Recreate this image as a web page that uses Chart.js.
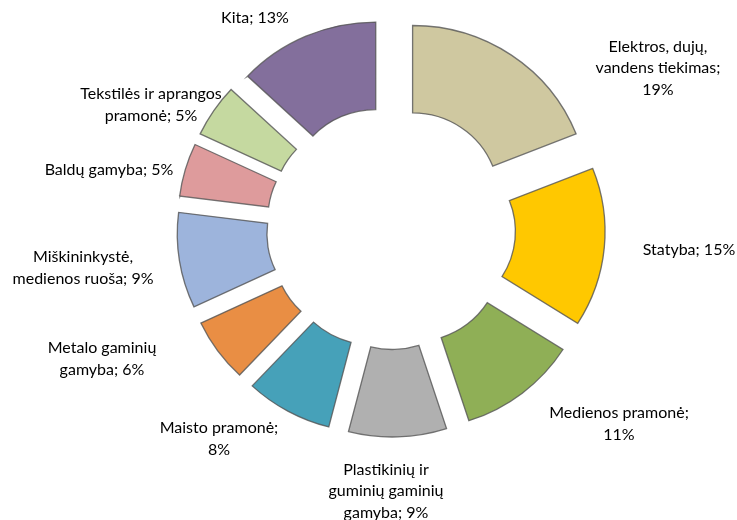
<!DOCTYPE html>
<html>
<head>
<meta charset="utf-8">
<script src="https://cdn.jsdelivr.net/npm/chart.js@4"></script>
<style>
  html, body { margin: 0; padding: 0; background: #fff; }
  #wrap { width: 737px; height: 520px; }
</style>
</head>
<body>
<div id="wrap"><canvas id="c" width="737" height="520"></canvas></div>
<script>
// ---- data ----
const categories = [
  ["Elektros, dujų,", "vandens tiekimas"],
  ["Statyba"],
  ["Medienos pramonė"],
  ["Plastikinių ir", "guminių gaminių", "gamyba"],
  ["Maisto pramonė"],
  ["Metalo gaminių", "gamyba"],
  ["Miškininkystė,", "medienos ruoša"],
  ["Baldų gamyba"],
  ["Tekstilės ir aprangos", "pramonė"],
  ["Kita"]
];
const values = [19, 15, 11, 9, 8, 6, 9, 5, 5, 13];

// ---- styles / layout ----
const colors = ["#CFC8A0", "#FFC800", "#8FAF56", "#B0B0B0", "#46A1B9",
                "#E98E44", "#9DB4DC", "#DE9B9C", "#C5D9A0", "#836F9C"];
const pctOnNewLine = [true, false, true, false, true, false, false, false, false, false];
// label block centres relative to the doughnut centre (px)
const labelOffsets = [[267, -160], [298, 22], [228, 196], [-5, 263], [-172, 211],
                      [-289, 131], [-308, 40], [-282, -58], [-240, -123], [-136, -210]];
const explode = 37.5;
const stretchX = 1.025;
const lineH = 21.5;

const explodePlugin = {
  id: 'explode',
  afterDatasetUpdate(chart, args) {
    const meta = chart.getDatasetMeta(args.index);
    meta.data.forEach(arc => {
      const mid = (arc.startAngle + arc.endAngle) / 2;
      arc.x += explode * Math.cos(mid);
      arc.y += explode * Math.sin(mid);
    });
  },
  beforeDatasetsDraw(chart) {
    const a = chart.chartArea;
    const cx = (a.left + a.right) / 2, cy = (a.top + a.bottom) / 2;
    const ctx = chart.ctx;
    ctx.save();
    ctx.translate(cx, cy);
    ctx.scale(stretchX, 1);
    ctx.translate(-cx, -cy);
  },
  afterDatasetsDraw(chart) {
    chart.ctx.restore();
  }
};

const labelPlugin = {
  id: 'sliceLabels',
  afterDraw(chart) {
    const ctx = chart.ctx;
    const area = chart.chartArea;
    const cx = (area.left + area.right) / 2;
    const cy = (area.top + area.bottom) / 2;
    ctx.save();
    ctx.font = '16px Lato, "Open Sans", sans-serif';
    ctx.fillStyle = '#000';
    ctx.textAlign = 'center';
    ctx.textBaseline = 'middle';
    const ds = chart.data.datasets[0];
    chart.data.labels.forEach((lab, i) => {
      const lines = lab.slice();
      const pct = ds.data[i] + '%';
      if (pctOnNewLine[i]) {
        lines[lines.length - 1] += ';';
        lines.push(pct);
      } else {
        lines[lines.length - 1] += '; ' + pct;
      }
      const x = cx + labelOffsets[i][0];
      const y0 = cy + labelOffsets[i][1] - (lines.length - 1) * lineH / 2;
      lines.forEach((t, k) => ctx.fillText(t, x, y0 + k * lineH));
    });
    ctx.restore();
  }
};

new Chart(document.getElementById('c'), {
  type: 'doughnut',
  data: {
    labels: categories,
    datasets: [{
      data: values,
      backgroundColor: colors,
      borderColor: 'rgba(85,85,85,0.8)',
      borderWidth: 1.3,
      borderJoinStyle: 'miter'
    }]
  },
  options: {
    responsive: false,
    animation: false,
    events: [],
    radius: 171.5,
    cutout: '49%',
    layout: { padding: { left: 60, right: 15, top: 10, bottom: 74 } },
    plugins: {
      legend: { display: false },
      tooltip: { enabled: false }
    }
  },
  plugins: [explodePlugin, labelPlugin]
});
</script>
</body>
</html>
